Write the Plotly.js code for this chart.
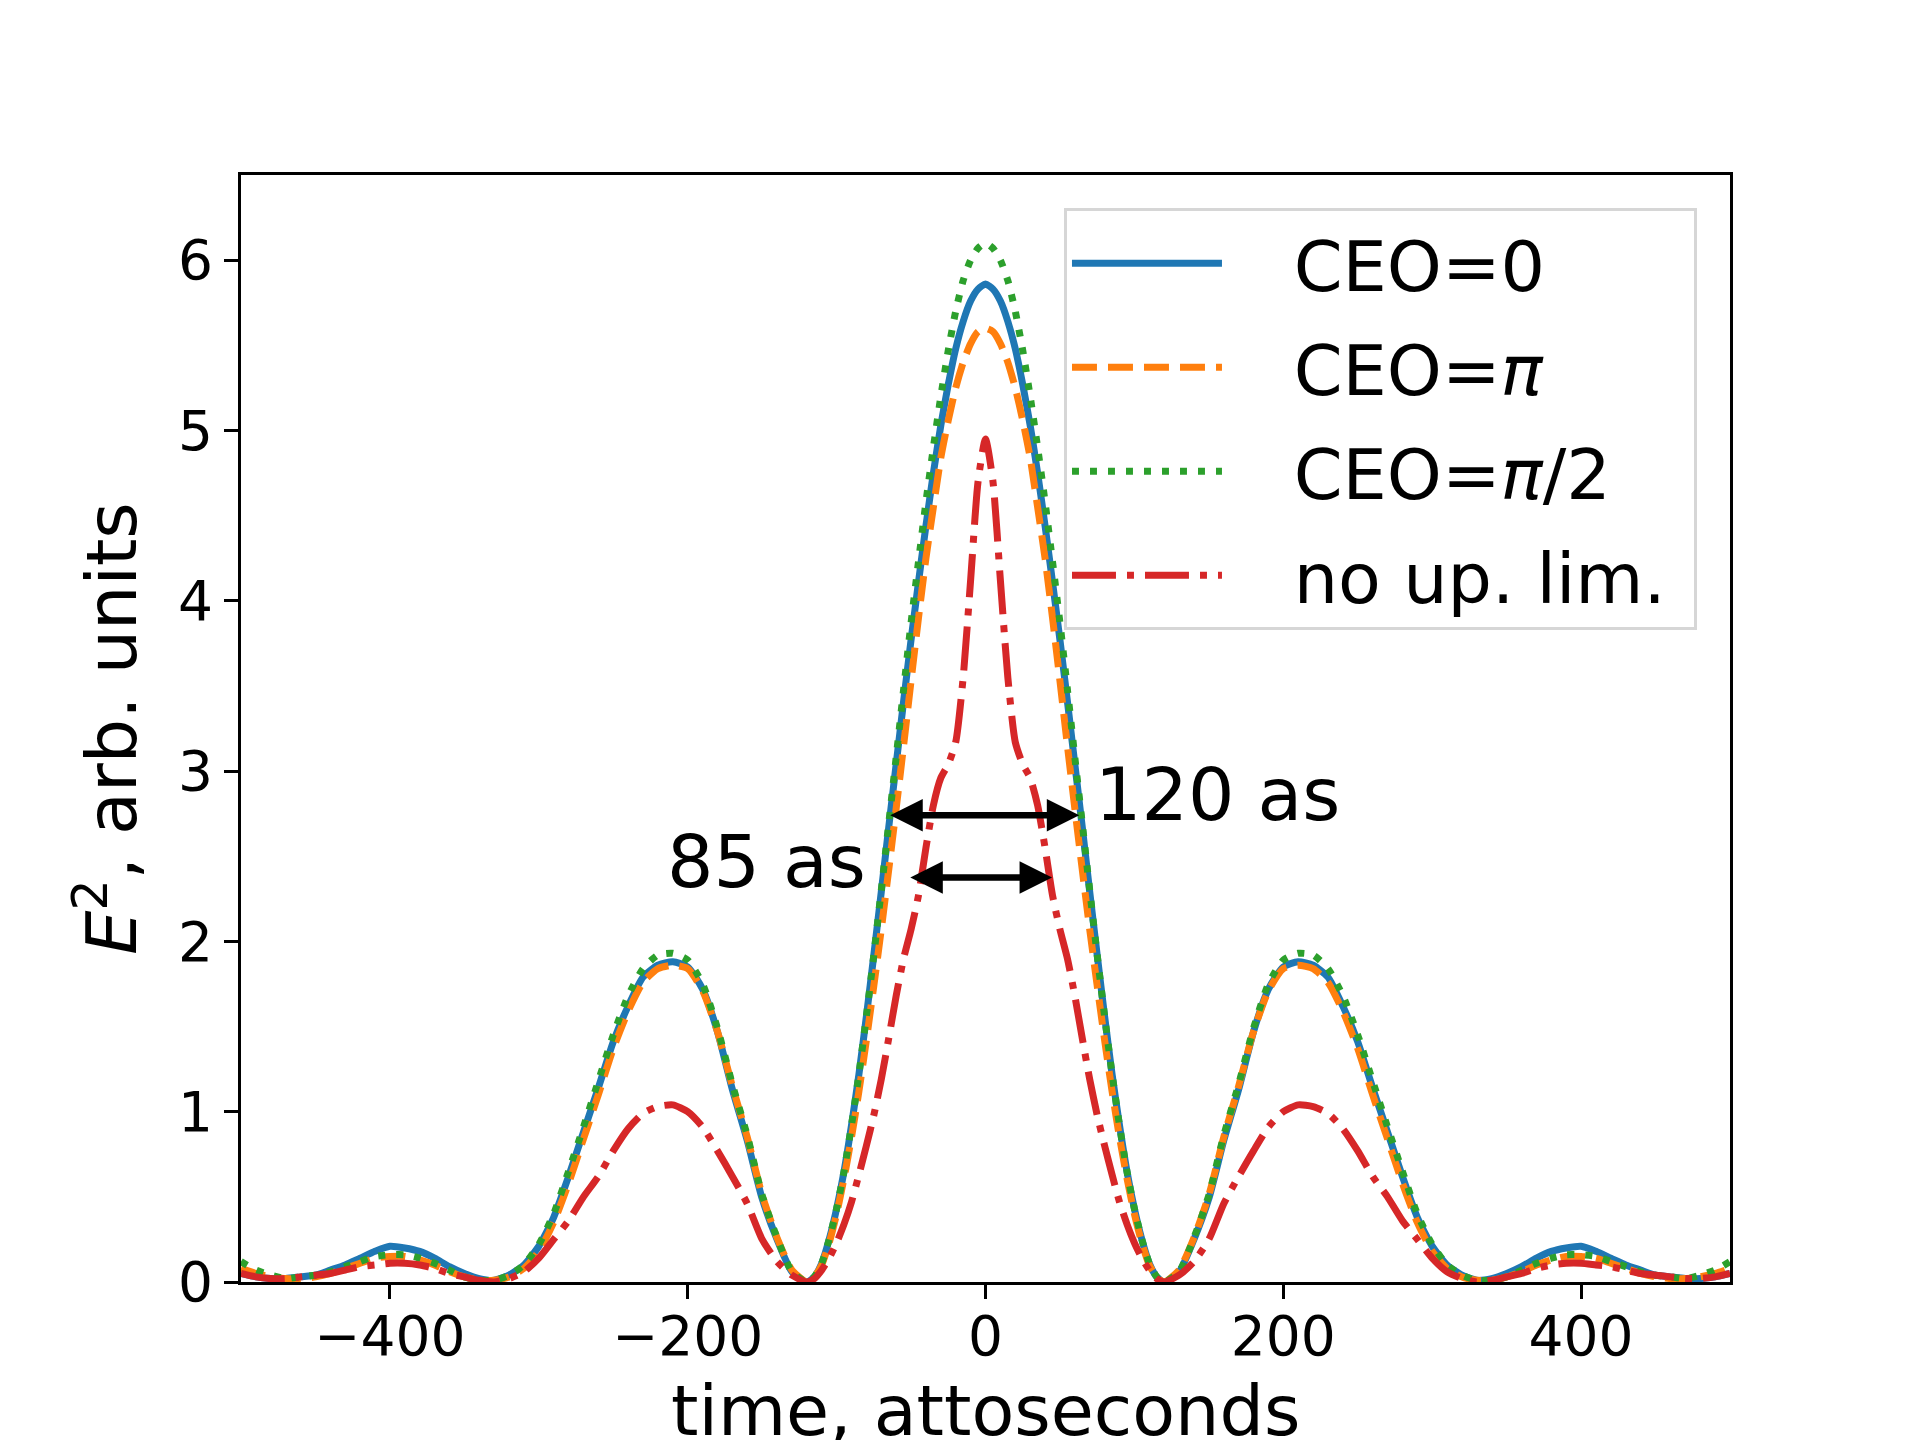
<!DOCTYPE html>
<html>
<head>
<meta charset="utf-8">
<script src="https://cdn.plot.ly/plotly-3.0.1.min.js"></script>
<style>
  html, body { margin: 0; padding: 0; background: #fff; }
  #chart { width: 1920px; height: 1440px; }
</style>
</head>
<body>
<div id="chart"></div>
<script>
// time axis, attoseconds (finer step around the main peak)
var times = [
  -500,-490,-480,-470,-460,-450,-440,-430,-420,-410,-400,-390,-380,-370,-360,-350,-340,-330,-320,-310,
  -300,-290,-280,-270,-260,-250,-240,-230,-220,-210,-200,-190,-180,-170,-160,-150,-140,-130,
  -120,-115,-110,-105,-100,-95,-90,-85,-80,-75,-70,-65,-60,-55,-50,-45,-40,-35,-30,-25,-20,-15,-10,-5,0,
  5,10,15,20,25,30,35,40,45,50,55,60,65,70,75,80,85,90,95,100,105,110,115,120,
  130,140,150,160,170,180,190,200,210,220,230,240,250,260,270,280,290,300,
  310,320,330,340,350,360,370,380,390,400,410,420,430,440,450,460,470,480,490,500
];

// E^2, CEO = 0
var ceo0 = [
  .05,.03,.02,.02,.03,.04,.07,.10,.14,.18,.21,.20,.18,.14,.09,.05,.02,.01,.04,.10,.21,.38,.62,.88,1.14,1.41,1.62,1.79,1.86,1.88,1.85,1.72,1.47,1.13,.83,.49,.25,.06,
  0,.03,.11,.25,.43,.65,.92,1.22,1.56,1.92,2.29,2.67,3.04,3.41,3.77,4.11,4.44,4.75,5.03,5.27,5.48,5.64,5.76,5.83,5.86,
  5.83,5.76,5.64,5.48,5.27,5.03,4.75,4.44,4.11,3.77,3.41,3.04,2.67,2.29,1.92,1.56,1.22,.92,.65,.43,.25,.11,.03,0,
  .06,.25,.49,.83,1.13,1.47,1.72,1.85,1.88,1.86,1.79,1.62,1.41,1.14,.88,.62,.38,.21,.10,.04,.01,.02,.05,.09,.14,.18,.20,.21,.18,.14,.10,.07,.04,.03,.02,.02,.03,.05
];

// E^2, CEO = pi
var ceoPi = [
  .08,.05,.03,.02,.02,.03,.05,.08,.11,.14,.15,.15,.13,.10,.06,.03,.01,.01,.03,.08,.18,.35,.58,.84,1.10,1.37,1.59,1.76,1.84,1.86,1.84,1.71,1.47,1.15,.85,.51,.26,.07,
  0,.03,.10,.23,.40,.61,.85,1.12,1.42,1.74,2.07,2.42,2.78,3.15,3.53,3.90,4.25,4.55,4.84,5.06,5.25,5.40,5.51,5.58,5.60,
  5.58,5.51,5.40,5.25,5.06,4.84,4.55,4.25,3.90,3.53,3.15,2.78,2.42,2.07,1.74,1.42,1.12,.85,.61,.40,.23,.10,.03,0,
  .07,.26,.51,.85,1.15,1.47,1.71,1.84,1.86,1.84,1.76,1.59,1.37,1.10,.84,.58,.35,.18,.08,.03,.01,.01,.03,.06,.10,.13,.15,.15,.14,.11,.08,.05,.03,.02,.02,.03,.05,.08
];

// E^2, CEO = pi/2
var ceoPi2 = [
  .12,.07,.04,.02,.03,.04,.06,.09,.12,.15,.16,.16,.14,.11,.07,.03,.01,.01,.04,.10,.22,.40,.65,.91,1.18,1.45,1.68,1.84,1.92,1.93,1.89,1.75,1.49,1.16,.86,.51,.26,.06,
  0,.03,.11,.25,.43,.65,.92,1.22,1.56,1.92,2.30,2.69,3.08,3.48,3.87,4.23,4.58,4.90,5.20,5.47,5.70,5.88,6.00,6.07,6.10,
  6.07,6.00,5.88,5.70,5.47,5.20,4.90,4.58,4.23,3.87,3.48,3.08,2.69,2.30,1.92,1.56,1.22,.92,.65,.43,.25,.11,.03,0,
  .06,.26,.51,.86,1.16,1.49,1.75,1.89,1.93,1.92,1.84,1.68,1.45,1.18,.91,.65,.40,.22,.10,.04,.01,.01,.03,.07,.11,.14,.16,.16,.15,.12,.09,.06,.04,.03,.02,.04,.07,.12
];

// E^2, no upper limit
var noUpLim = [
  .05,.03,.02,.02,.03,.04,.05,.07,.09,.10,.11,.11,.10,.08,.05,.03,.01,0,.02,.06,.14,.25,.36,.50,.62,.77,.90,.99,1.03,1.04,1.00,.91,.77,.62,.46,.25,.12,.04,
  0,.02,.07,.14,.23,.34,.47,.63,.80,.98,1.19,1.43,1.68,1.90,2.07,2.27,2.55,2.80,2.96,3.04,3.17,3.55,4.12,4.70,4.95,
  4.70,4.12,3.55,3.17,3.04,2.96,2.80,2.55,2.27,2.07,1.90,1.68,1.43,1.19,.98,.80,.63,.47,.34,.23,.14,.07,.02,0,
  .04,.12,.25,.46,.62,.77,.91,1.00,1.04,1.03,.99,.90,.77,.62,.50,.36,.25,.14,.06,.02,0,.01,.03,.05,.08,.10,.11,.11,.10,.09,.07,.05,.04,.03,.02,.02,.03,.05
];

var seriesNames = ['CEO=0', 'CEO=<i>π</i>', 'CEO=<i>π</i>/2', 'no up. lim.'];
var xTicks = [-400, -200, 0, 200, 400];
var yTicks = [0, 1, 2, 3, 4, 5, 6];

var FONT = 'DejaVu Sans, Liberation Sans, sans-serif';
var LW = 7;
var PAD = '\u00a0\u00a0\u00a0';

function line(y, i, color, dash) {
  return {
    x: times, y: y, name: PAD + seriesNames[i] + '\u00a0',
    type: 'scatter', mode: 'lines',
    legendgroup: 'g' + i,
    line: { color: color, width: LW, dash: dash, shape: 'spline', smoothing: 0.6 }
  };
}

var data = [
  line(ceo0, 0, '#1f77b4', 'solid'),
  line(ceoPi, 1, '#ff7f0e', '25px,11px'),
  line(ceoPi2, 2, '#2ca02c', '7px,11px'),
  line(noUpLim, 3, '#d62728', '44px,11px,7px,11px')
];

var axisCommon = {
  showgrid: false, zeroline: false,
  showline: true, linecolor: 'black', linewidth: 3, mirror: true,
  ticks: 'outside', ticklen: 14, tickwidth: 3, tickcolor: 'black',
  tickfont: { family: FONT, size: 55, color: 'black' }
};

var layout = {
  width: 1920, height: 1440,
  paper_bgcolor: 'white', plot_bgcolor: 'white',
  margin: { l: 241, r: 190, t: 175, b: 158, pad: 0 },
  font: { family: FONT, color: 'black' },
  xaxis: Object.assign({}, axisCommon, {
    range: [-500, 500], tickvals: xTicks, ticklabelstandoff: -10
  }),
  yaxis: Object.assign({}, axisCommon, {
    range: [0, 6.5], tickvals: yTicks,
    title: { text: '<i>E</i><sup>2</sup>, arb. units', font: { family: FONT, size: 70, color: 'black' }, standoff: 19 }
  }),
  showlegend: true,
  legend: {
    x: 0.5527, y: 0.970, xanchor: 'left', yanchor: 'top',
    bgcolor: 'rgba(255,255,255,0.8)', bordercolor: '#d6d6d6', borderwidth: 3,
    font: { family: FONT, size: 70, color: 'black' },
    traceorder: 'grouped', tracegroupgap: 10, itemwidth: 150
  },
  annotations: [
    { x: 63, y: 2.74, ax: -65, ay: 2.74, xref: 'x', yref: 'y', axref: 'x', ayref: 'y',
      text: '', showarrow: true, arrowside: 'end+start', arrowhead: 2, arrowsize: 1, arrowwidth: 6.5, arrowcolor: 'black' },
    { x: 44.7, y: 2.375, ax: -51.5, ay: 2.375, xref: 'x', yref: 'y', axref: 'x', ayref: 'y',
      text: '', showarrow: true, arrowside: 'end+start', arrowhead: 2, arrowsize: 1, arrowwidth: 6.5, arrowcolor: 'black' },
    { x: 72, y: 2.86, xref: 'x', yref: 'y', text: '120 as', showarrow: false,
      xanchor: 'left', yanchor: 'middle', font: { family: FONT, size: 73, color: 'black' } },
    { x: -79, y: 2.47, xref: 'x', yref: 'y', text: '85 as', showarrow: false,
      xanchor: 'right', yanchor: 'middle', font: { family: FONT, size: 73, color: 'black' } },
    // x axis title, placed low so it runs off the bottom edge like the original
    { x: 0.5, y: -0.078, xref: 'paper', yref: 'paper', text: 'time, attoseconds', showarrow: false,
      xanchor: 'center', yanchor: 'top', font: { family: FONT, size: 70, color: 'black' } }
  ]
};

Plotly.newPlot('chart', data, layout, { displayModeBar: false, staticPlot: true });
</script>
</body>
</html>
